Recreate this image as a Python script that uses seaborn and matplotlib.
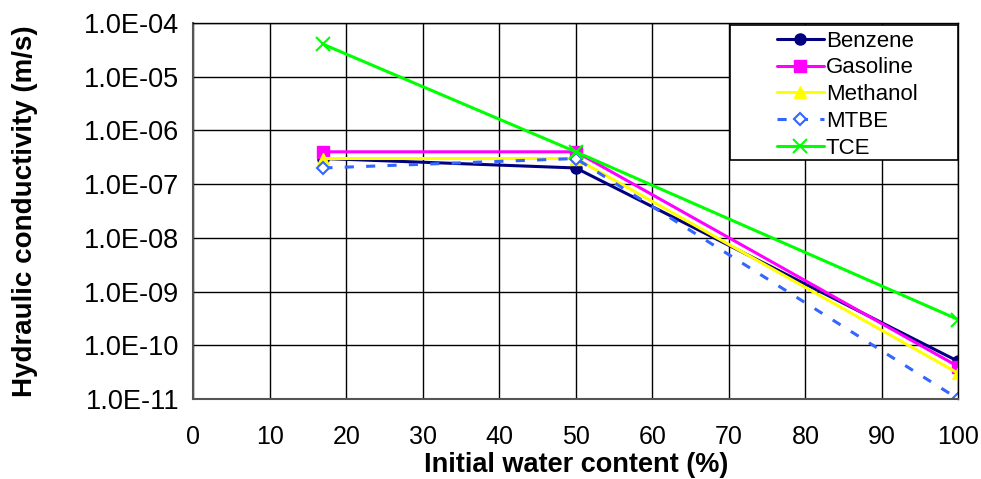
import pandas as pd
import matplotlib
matplotlib.use("Agg")
import matplotlib.pyplot as plt
import seaborn as sns
from matplotlib.ticker import MultipleLocator, LogLocator
from matplotlib.patches import Rectangle

# data
water_content = [17, 50, 100]
benzene = [3e-7, 2e-7, 5e-11]
gasoline = [4e-7, 4e-7, 4e-11]
methanol = [3e-7, 3e-7, 3e-11]
mtbe = [2e-7, 3e-7, 1e-11]
tce = [4e-5, 4e-7, 3e-10]

series = {"Benzene": benzene, "Gasoline": gasoline, "Methanol": methanol,
          "MTBE": mtbe, "TCE": tce}

sns.set_style("white")
plt.rcParams['font.family'] = ['Liberation Sans', 'DejaVu Sans']
plt.rcParams['text.color'] = 'black'
plt.rcParams['axes.labelcolor'] = 'black'
plt.rcParams['xtick.color'] = 'black'
plt.rcParams['ytick.color'] = 'black'

fig = plt.figure(figsize=(9.81, 4.79), dpi=100)
ax = fig.add_axes([0.197, 0.167, 0.78, 0.785])

styles = {
    "Benzene": dict(color="#000080", marker="o", ms=8, mfc="#000080", mec="#000080", ls="-"),
    "Gasoline": dict(color="#FF00FF", marker="s", ms=8, mfc="#FF00FF", mec="#FF00FF", ls="-"),
    "Methanol": dict(color="#FFFF00", marker="^", ms=9, mfc="#FFFF00", mec="#FFFF00", ls="-"),
    "MTBE": dict(color="#3366FF", marker="D", ms=6, mfc="white", mec="#3366FF", ls=(0, (3, 4)), mew=1.5),
    "TCE": dict(color="#00FF00", marker="x", ms=10, mfc="#00FF00", mec="#00FF00", ls="-", mew=1.5),
}

for name, vals in series.items():
    df = pd.DataFrame({"x": water_content, "y": vals})
    st = styles[name]
    sns.lineplot(data=df, x="x", y="y", ax=ax, label=name, color=st["color"],
                 linestyle=st["ls"], linewidth=2.2, marker=st["marker"],
                 markersize=st["ms"], markerfacecolor=st["mfc"],
                 markeredgecolor=st["mec"], markeredgewidth=st.get("mew", 1))

ax.set_yscale("log")
ax.set_xlim(0, 100)
ax.set_ylim(1e-11, 1e-4)
ax.xaxis.set_major_locator(MultipleLocator(10))
ax.xaxis.set_minor_locator(MultipleLocator(5))
ax.yaxis.set_minor_locator(LogLocator(base=10, subs=range(2, 10), numticks=100))
ax.yaxis.set_minor_formatter(plt.NullFormatter())
ax.set_yticks([10.0 ** e for e in range(-11, -3)])
ax.set_yticklabels(["1.0E-%02d" % (-e) for e in range(-11, -3)])

ax.grid(True, which="major", color="black", linewidth=1)
ax.tick_params(axis="y", which="major", direction="out", length=6, width=1,
               labelsize=19.5, pad=4)
ax.tick_params(axis="both", which="minor", direction="in", length=4, width=1)
ax.tick_params(axis="x", which="major", direction="inout", length=10, width=1,
               labelsize=18, pad=14)
for s in ax.spines.values():
    s.set_color("black")
    s.set_linewidth(1)
ax.spines["left"].set_color("#555555")
ax.spines["bottom"].set_color("#555555")
ax.spines["left"].set_linewidth(1.5)
ax.spines["bottom"].set_linewidth(1.5)

ax.set_xlabel("Initial water content (%)", fontsize=19.5, fontweight="bold", labelpad=2)
ax.set_ylabel("Hydraulic conductivity (m/s)", fontsize=20, fontweight="bold", labelpad=33)

# legend box as in the reference, wider than its content
ax.add_patch(Rectangle((0.702, 0.636), 0.297, 0.359, transform=ax.transAxes,
                       facecolor="white", edgecolor="black", linewidth=1.2, zorder=5))
leg = ax.legend(loc="upper left", bbox_to_anchor=(0.763, 0.98), fontsize=16,
                frameon=False, handlelength=2.1, handletextpad=0.1,
                borderpad=0, labelspacing=0.26, borderaxespad=0)
leg.set_zorder(6)

fig.savefig("out.png", dpi=100)
